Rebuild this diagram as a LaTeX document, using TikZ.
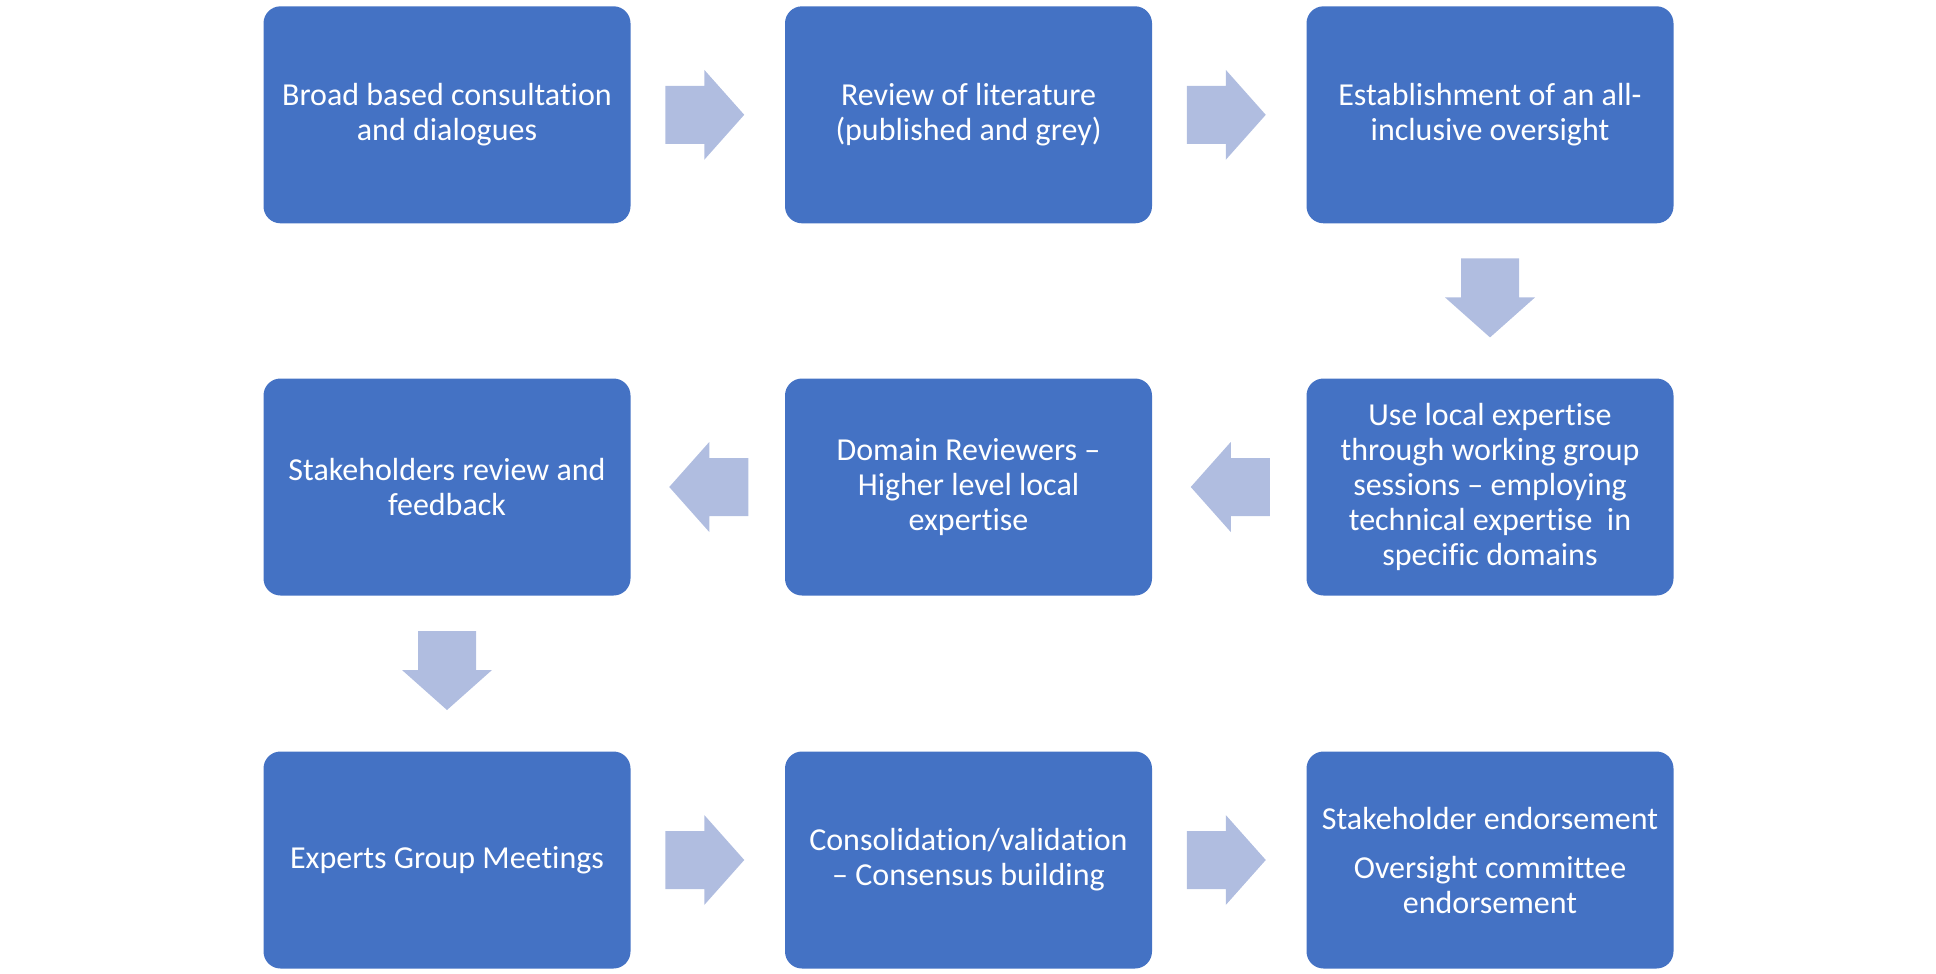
\documentclass[tikz,border=0pt]{standalone}
\usepackage{fontspec}
\setmainfont{Carlito}[RawFeature={-liga;-clig;-dlig}]
\usetikzlibrary{calc}
\definecolor{boxblue}{RGB}{68,114,196}
\definecolor{arrblue}{RGB}{176,189,224}
\tikzset{
  stepbox/.style={rectangle, rounded corners=17pt, fill=boxblue, draw=none,
    minimum width=367pt, minimum height=217pt, inner sep=0pt,
    text=white, align=center, font=\fontsize{32}{35}\selectfont},
  arr/.style={fill=arrblue, draw=none}
}
\newcommand{\blockarrow}[2]{%
  \begin{scope}[shift={(#1)}, rotate=#2]
    \fill[arr] (-39.5,-29) -- ++(39,0) -- ++(0,-16) -- ++(40,45) -- ++(-40,45) -- ++(0,-16) -- ++(-39,0) -- cycle;
  \end{scope}}
\begin{document}
\begin{tikzpicture}[x=1pt, y=-1pt]
\useasboundingbox (0,0) rectangle (1936,974);
% row 1
\node[stepbox] (b1) at (447,114.8) {Broad based consultation\\and dialogues};
\node[stepbox] (b2) at (968.5,114.8) {Review of literature\\(published and grey)};
\node[stepbox] (b3) at (1490,114.8) {Establishment of an all-\\inclusive oversight};
% row 2
\node[stepbox] (b4) at (1490,487) {Use local expertise\\through working group\\sessions – employing\\technical expertise~ in\\specific domains};
\node[stepbox] (b5) at (968.5,487) {Domain Reviewers –\\Higher level local\\expertise};
\node[stepbox] (b6) at (447,487) {Stakeholders review and\\feedback};
% row 3
\node[stepbox] (b7) at (447,860) {Experts Group Meetings};
\node[stepbox] (b8) at (968.5,860) {Consolidation/validation\\– Consensus building};
\node[stepbox] (b9) at (1490,860) {Stakeholder endorsement\\[14pt]Oversight committee\\endorsement};
% arrows
\coordinate (a12) at ($(b1.east)!0.5!(b2.west)+(-3,0)$);
\coordinate (a23) at ($(b2.east)!0.5!(b3.west)+(-3,0)$);
\coordinate (a34) at ($(b3.south)!0.5!(b4.north)+(0,-3)$);
\coordinate (a45) at ($(b4.west)!0.5!(b5.east)+(1,0)$);
\coordinate (a56) at ($(b5.west)!0.5!(b6.east)+(1,0)$);
\coordinate (a67) at ($(b6.south)!0.5!(b7.north)+(0,-3)$);
\coordinate (a78) at ($(b7.east)!0.5!(b8.west)+(-3,0)$);
\coordinate (a89) at ($(b8.east)!0.5!(b9.west)+(-3,0)$);
\blockarrow{a12}{0}
\blockarrow{a23}{0}
\blockarrow{a34}{-90}
\blockarrow{a45}{180}
\blockarrow{a56}{180}
\blockarrow{a67}{-90}
\blockarrow{a78}{0}
\blockarrow{a89}{0}
\end{tikzpicture}
\end{document}
